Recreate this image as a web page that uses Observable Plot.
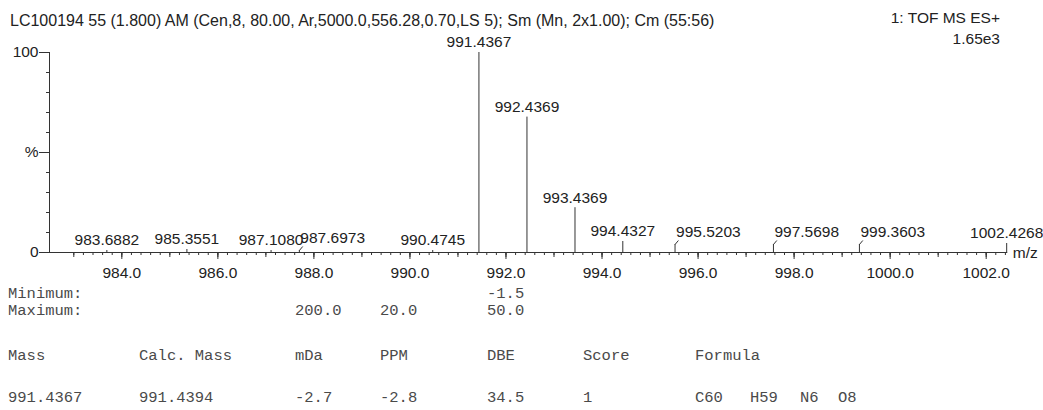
<!DOCTYPE html>
<html>
<head>
<meta charset="utf-8">
<script src="https://cdn.jsdelivr.net/npm/d3@7"></script>
<script src="https://cdn.jsdelivr.net/npm/@observablehq/plot@0.6"></script>
<style>
  html, body { margin: 0; padding: 0; background: #fff; }
  body { width: 1043px; height: 410px; position: relative; overflow: hidden;
         font-family: "Liberation Sans", Arial, sans-serif; color: #222; }
  .abs { position: absolute; white-space: pre; line-height: 1; }
  .sans { font-size: 15.5px; }
  .title { font-size: 16px; }
  .mono { font-family: "Liberation Mono", "Courier New", monospace; font-size: 15.5px; color: #4a4a4a; }
  #chart { position: absolute; left: 0; top: 28px; }
</style>
</head>
<body>
<div id="header"></div>
<div id="chart"></div>
<div id="table"></div>
<script>
// ---------------- data ----------------
const titleText = "LC100194 55 (1.800) AM (Cen,8, 80.00, Ar,5000.0,556.28,0.70,LS 5); Sm (Mn, 2x1.00); Cm (55:56)";
const instrumentText = "1: TOF MS ES+";
const baseIntensityText = "1.65e3";

const peakMz  = [983.6882, 985.3551, 987.1080, 987.6973, 990.4745, 991.4367, 992.4369, 993.4369, 994.4327, 995.5203, 997.5698, 999.3603, 1002.4268];
const peakPct = [1.0,      1.5,      1.0,      1.0,      1.0,      100,      67.7,     22.4,     5.5,      4.0,      4.0,      4.0,      4.5];
const leaderPeaks = [987.6973, 995.5203, 997.5698, 999.3603];

const xTickLabels = [984, 986, 988, 990, 992, 994, 996, 998, 1000, 1002];
const yTickValues = [0, 50, 100];
const yTickLabels = ["0", "%", "100"];
const xAxisTitle = "m/z";

const limitLabels = ["Minimum:", "Maximum:"];
const tableHeaders = ["Mass", "Calc. Mass", "mDa", "PPM", "DBE", "Score", "Formula"];
const minimumRow = ["", "", "", "", "-1.5", "", ""];
const maximumRow = ["", "", "200.0", "20.0", "50.0", "", ""];
const resultRow  = ["991.4367", "991.4394", "-2.7", "-2.8", "34.5", "1", ""];
const formulaParts = ["C60", "H59", "N6", "O8"];

// ---------------- header ----------------
const header = document.getElementById("header");
function addText(parent, cls, text, style) {
  const d = document.createElement("div");
  d.className = "abs " + cls;
  d.textContent = text;
  Object.assign(d.style, style);
  parent.appendChild(d);
  return d;
}
addText(header, "title", titleText, {left: "10px", top: "13px"});
addText(header, "sans", instrumentText, {right: "43px", top: "10px"});
addText(header, "sans", baseIntensityText, {right: "43px", top: "31px"});

// ---------------- chart ----------------
const xDomain = [982.494, 1002.45];
const peaks = peakMz.map((mz, i) => ({mz, pct: peakPct[i], label: mz.toFixed(4)}));
const leaderSet = new Set(leaderPeaks);
const plainLabels = peaks.filter(d => !leaderSet.has(d.mz));
const leaderLabels = peaks.filter(d => leaderSet.has(d.mz));
const yLabMap = new Map(yTickValues.map((v, i) => [v, yTickLabels[i]]));

const minorTicks = d3.range(983, 1002.41, 0.2).map(v => +v.toFixed(1)).filter(v => v > xDomain[0] && v <= xDomain[1]);
const intTicks = d3.range(983, 1003, 1);

const ink = "#333";
const chart = Plot.plot({
  width: 1043,
  height: 258,
  marginLeft: 49,
  marginRight: 35.7,
  marginTop: 24,
  marginBottom: 34,
  x: {domain: xDomain, label: null},
  y: {domain: [0, 100], label: null},
  style: {fontFamily: "'Liberation Sans', Arial, sans-serif", fontSize: "15.5px", color: "#222", background: "transparent", overflow: "visible"},
  marks: [
    Plot.ruleY([0], {stroke: ink}),
    Plot.ruleX([xDomain[0]], {y1: 0, y2: 100, stroke: ink}),
    Plot.axisX(minorTicks, {tickSize: 3, tickFormat: () => "", stroke: ink, label: null}),
    Plot.axisX(intTicks, {tickSize: 5, tickFormat: () => "", stroke: ink, label: null}),
    Plot.axisX(xTickLabels, {tickSize: 7, tickPadding: 7, tickFormat: d => d.toFixed(1), stroke: ink, label: null}),
    Plot.axisY(d3.range(0, 101, 10), {tickSize: 3, tickFormat: () => "", stroke: ink, label: null}),
    Plot.axisY(yTickValues, {tickSize: 10, tickPadding: 1, tickFormat: d => yLabMap.get(d), stroke: ink, label: null}),
    Plot.ruleX(peaks, {x: "mz", y1: 0, y2: "pct", stroke: ink, strokeWidth: 1}),
    Plot.text(plainLabels, {x: "mz", y: "pct", text: "label", dy: -10, fill: "#222"}),
    Plot.link(leaderLabels, {x1: "mz", y1: "pct", x2: d => d.mz + 0.07, y2: d => d.pct + 2, stroke: ink}),
    Plot.text(leaderLabels, {x: "mz", y: d => d.pct + 2, text: "label", dy: -8, dx: 1, textAnchor: "start", fill: "#222"}),
    Plot.text([{mz: xDomain[1], pct: 0}], {x: "mz", y: "pct", text: () => xAxisTitle, dx: 5, dy: 1, textAnchor: "start", fill: "#222"})
  ]
});
document.getElementById("chart").appendChild(chart);

// ---------------- table ----------------
const table = document.getElementById("table");
const colX = [8, 139, 295, 380, 487, 583, 695];
const rowTop = {min: 287, max: 304, head: 349, val: 391};
addText(table, "mono", limitLabels[0], {left: colX[0] + "px", top: rowTop.min + "px"});
addText(table, "mono", limitLabels[1], {left: colX[0] + "px", top: rowTop.max + "px"});
minimumRow.forEach((t, i) => { if (t) addText(table, "mono", t, {left: colX[i] + "px", top: rowTop.min + "px"}); });
maximumRow.forEach((t, i) => { if (t) addText(table, "mono", t, {left: colX[i] + "px", top: rowTop.max + "px"}); });
tableHeaders.forEach((t, i) => addText(table, "mono", t, {left: colX[i] + "px", top: rowTop.head + "px"}));
resultRow.forEach((t, i) => { if (t) addText(table, "mono", t, {left: colX[i] + "px", top: rowTop.val + "px"}); });
const formulaX = [695, 750, 800, 838];
formulaParts.forEach((t, i) => addText(table, "mono", t, {left: formulaX[i] + "px", top: rowTop.val + "px"}));
</script>
</body>
</html>
